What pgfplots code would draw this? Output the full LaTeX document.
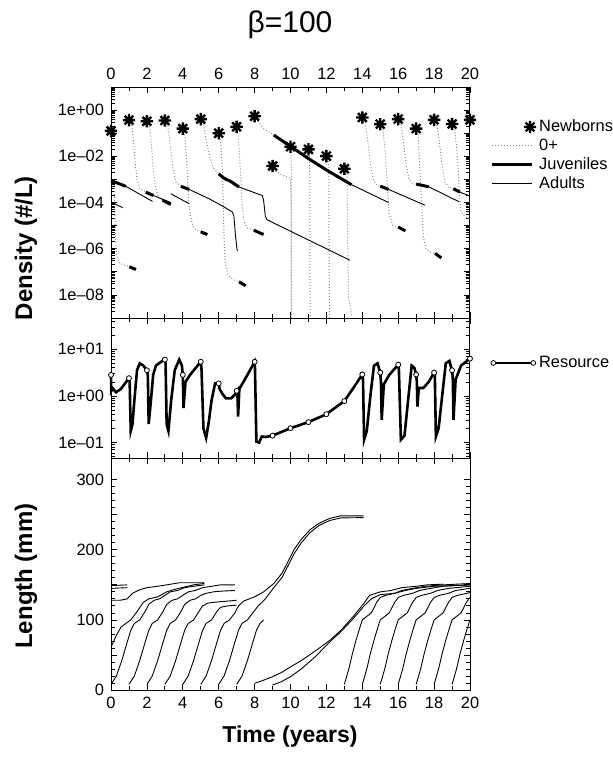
\documentclass[border=0pt]{standalone}
\usepackage{fontspec}
\setmainfont{Liberation Sans}
\usepackage{pgfplots}
\pgfplotsset{compat=1.18}

% eight-armed asterisk for the newborns
\pgfdeclareplotmark{ast8}{%
  \pgfpathmoveto{\pgfpoint{-\pgfplotmarksize}{0pt}}\pgfpathlineto{\pgfpoint{\pgfplotmarksize}{0pt}}%
  \pgfpathmoveto{\pgfpoint{0pt}{-\pgfplotmarksize}}\pgfpathlineto{\pgfpoint{0pt}{\pgfplotmarksize}}%
  \pgfpathmoveto{\pgfpoint{-0.7071\pgfplotmarksize}{-0.7071\pgfplotmarksize}}\pgfpathlineto{\pgfpoint{0.7071\pgfplotmarksize}{0.7071\pgfplotmarksize}}%
  \pgfpathmoveto{\pgfpoint{-0.7071\pgfplotmarksize}{0.7071\pgfplotmarksize}}\pgfpathlineto{\pgfpoint{0.7071\pgfplotmarksize}{-0.7071\pgfplotmarksize}}%
  \pgfusepathqstroke}

\tikzset{nb/.style={mark=ast8, mark size=3.1pt, line width=1.2pt, black}}

\pgfplotsset{
  panel/.style={
    scale only axis, width=179.5pt, xmin=0, xmax=20, anchor=north west,
    xtick={0,2,...,20}, minor xtick={1,3,...,19},
    tick pos=both, tick align=inside,
    major tick length=3pt, minor tick length=1.8pt,
    axis line style={line width=0.5pt},
    tick style={black, line width=0.4pt},
    tick label style={font=\fontsize{8.2}{9}\selectfont},
    /pgf/number format/assume math mode=true,
    clip=false,
  },
  juv/.style={black, line width=1.5pt, forget plot},
  adu/.style={black, line width=0.45pt, forget plot},
  zero/.style={black!45, densely dotted, line width=0.5pt, forget plot},
  len/.style={black, line width=0.45pt, forget plot},
}

\begin{document}
\begin{tikzpicture}
\useasboundingbox (0pt,0pt) rectangle (306.5pt,-380.5pt);

% ---------------- densities ----------------
\begin{axis}[panel, at={(55.5pt,-43.5pt)}, height=115.5pt,
  ymode=log, ymin=1e-9, ymax=10,
  xticklabel pos=upper,
  ytick={1e-9,1e-8,1e-7,1e-6,1e-5,1e-4,1e-3,1e-2,1e-1,1,10},
  yticklabels={,1e--08,,1e--06,,1e--04,,1e--02,,1e+00,},
  minor ytick={2e-9,3e-9,4e-9,5e-9,6e-9,7e-9,8e-9,9e-9,
    2e-8,3e-8,4e-8,5e-8,6e-8,7e-8,8e-8,9e-8,
    2e-7,3e-7,4e-7,5e-7,6e-7,7e-7,8e-7,9e-7,
    2e-6,3e-6,4e-6,5e-6,6e-6,7e-6,8e-6,9e-6,
    2e-5,3e-5,4e-5,5e-5,6e-5,7e-5,8e-5,9e-5,
    2e-4,3e-4,4e-4,5e-4,6e-4,7e-4,8e-4,9e-4,
    2e-3,3e-3,4e-3,5e-3,6e-3,7e-3,8e-3,9e-3,
    0.02,0.03,0.04,0.05,0.06,0.07,0.08,0.09,
    0.2,0.3,0.4,0.5,0.6,0.7,0.8,0.9,2,3,4,5,6,7,8,9},
  legend cell align=left,
  legend style={draw=none, fill=none, at={(1.056,0.874)}, anchor=north west,
    font=\fontsize{8.2}{9.5}\selectfont, row sep=-0.9pt, column sep=0pt,
    inner sep=0pt, nodes={inner sep=1.5pt}},
]
% 0+ (dotted)
\addplot[zero] coordinates {(0.19,7.9e-4)(0.22,3.2e-5)(0.26,2.5e-6)(0.32,5.0e-7)(0.45,2.5e-7)(0.7,2.0e-7)(1.02,1.66e-7)};
\addplot[zero] coordinates {(1.0,0.37)(1.15,0.25)(1.25,0.05)(1.35,5.0e-3)(1.45,1e-3)(1.6,4.0e-4)(1.94,2.8e-4)};
\addplot[zero] coordinates {(2,0.33)(2.15,0.2)(2.25,0.032)(2.35,2.5e-3)(2.5,4.0e-4)(2.65,1.58e-4)(2.87,1.26e-4)};
\addplot[zero] coordinates {(3,0.355)(3.15,0.25)(3.3,0.032)(3.45,3.2e-3)(3.6,7.9e-4)(3.9,5.0e-4)};
\addplot[zero] coordinates {(4,0.158)(4.1,0.1)(4.2,0.01)(4.3,3.2e-4)(4.4,3.2e-5)(4.55,1e-5)(4.75,6.3e-6)(5.0,5.4e-6)};
\addplot[zero] coordinates {(5,0.41)(5.15,0.25)(5.3,0.05)(5.5,0.01)(5.7,3.2e-3)(6.0,1.74e-3)};
\addplot[zero] coordinates {(6,0.1)(6.1,0.05)(6.2,3.2e-3)(6.25,1e-4)(6.3,3.2e-6)(6.35,3.2e-7)(6.5,7.9e-8)(6.8,4.5e-8)(7.13,3.7e-8)};
\addplot[zero] coordinates {(7,0.19)(7.1,0.063)(7.2,3.2e-3)(7.3,1e-4)(7.4,1.58e-5)(7.6,7.9e-6)(7.96,6.3e-6)};
\addplot[zero] coordinates {(8,0.54)(8.2,0.32)(8.5,0.158)(9.07,0.083)};
\addplot[zero] coordinates {(9,3.8e-3)(9.1,2.5e-3)(9.5,1.58e-3)(10.0,1.12e-3)(10.03,1e-4)(10.03,1e-9)};
\addplot[zero] coordinates {(10.04,0.0158)(10.06,1e-9)};
\addplot[zero] coordinates {(11.07,0.0141)(11.09,1e-9)};
\addplot[zero] coordinates {(12.13,6.3e-3)(12.15,3.2e-7)(12.18,1e-9)};
\addplot[zero] coordinates {(13.15,1.78e-3)(13.17,1e-5)(13.24,7.9e-9)(13.43,1.15e-9)};
\addplot[zero] coordinates {(14,0.48)(14.15,0.32)(14.3,0.05)(14.45,5e-3)(14.6,1e-3)(14.8,5.6e-4)(15.0,5.1e-4)};
\addplot[zero] coordinates {(15,0.245)(15.15,0.158)(15.3,0.01)(15.4,3.2e-4)(15.5,3.2e-5)(15.7,1e-5)(16.0,8.7e-6)};
\addplot[zero] coordinates {(16,0.41)(16.15,0.25)(16.3,0.04)(16.45,4e-3)(16.6,1e-3)(16.8,6.6e-4)(17.0,6.3e-4)};
\addplot[zero] coordinates {(17,0.158)(17.1,0.1)(17.2,3.2e-3)(17.3,1e-4)(17.4,3.2e-6)(17.55,1e-6)(17.8,7.1e-7)(18.05,6.3e-7)};
\addplot[zero] coordinates {(18,0.38)(18.15,0.25)(18.3,0.04)(18.45,4e-3)(18.6,7.9e-4)(18.8,4.5e-4)(19.07,4e-4)};
\addplot[zero] coordinates {(19,0.25)(19.15,0.158)(19.3,0.01)(19.4,3.2e-4)(19.5,4e-5)(19.7,2.5e-5)(20,2e-5)};
% adults (thin)
\addplot[adu] coordinates {(0,1.05e-4)(0.65,6.0e-5)};
\addplot[adu] coordinates {(0.83,5.0e-4)(2.31,1.12e-4)};
\addplot[adu] coordinates {(2.37,2.0e-4)(3.33,1.0e-4)};
\addplot[adu] coordinates {(3.33,2.4e-4)(4.35,8.9e-5)};
\addplot[adu] coordinates {(4.35,3.7e-4)(5.5,1.41e-4)(6.2,7.1e-5)(6.76,3.9e-5)(6.85,2.5e-5)(6.92,5.0e-6)(7.0,1.26e-6)(7.04,7.9e-7)};
\addplot[adu] coordinates {(7.13,4.7e-4)(8.43,2.0e-4)(8.5,1.26e-4)(8.6,2.5e-5)(8.7,1.78e-5)(13.3,3.2e-7)};
\addplot[adu] coordinates {(13.4,5.9e-4)(15.46,1.0e-4)};
\addplot[adu] coordinates {(15.46,3.7e-4)(17.5,7.6e-5)};
\addplot[adu] coordinates {(17.7,4.8e-4)(19.4,1.07e-4)};
\addplot[adu] coordinates {(19.44,2.8e-4)(20,1.9e-4)};
% juveniles (thick)
\addplot[juv] coordinates {(0,8.9e-4)(0.83,5.0e-4)};
\addplot[juv] coordinates {(1.02,1.66e-7)(1.39,1.26e-7)};
\addplot[juv] coordinates {(1.94,2.8e-4)(2.37,2.0e-4)};
\addplot[juv] coordinates {(2.87,1.26e-4)(3.33,8.3e-5)};
\addplot[juv] coordinates {(3.9,5.0e-4)(4.35,3.7e-4)};
\addplot[juv] coordinates {(5.0,5.4e-6)(5.37,4.1e-6)};
\addplot[juv] coordinates {(6.0,1.74e-3)(6.3,1.12e-3)(6.7,7.9e-4)(7.13,4.7e-4)};
\addplot[juv] coordinates {(7.13,3.7e-8)(7.5,2.5e-8)};
\addplot[juv] coordinates {(7.96,6.3e-6)(8.5,4.1e-6)};
\addplot[juv] coordinates {(9.07,0.083)(10.0,0.027)(11.02,7.8e-3)(12.04,2.45e-3)(13.4,5.9e-4)};
\addplot[juv] coordinates {(15.0,5.1e-4)(15.46,3.7e-4)};
\addplot[juv] coordinates {(16.0,8.7e-6)(16.4,5.9e-6)};
\addplot[juv] coordinates {(17.0,6.3e-4)(17.7,4.8e-4)};
\addplot[juv] coordinates {(18.05,6.3e-7)(18.4,4.0e-7)};
\addplot[juv] coordinates {(19.07,4.0e-4)(19.44,2.8e-4)};
% newborns
\addplot[only marks, nb, forget plot] coordinates {
(0,0.126)(1,0.37)(2,0.33)(3,0.355)(4,0.158)(5,0.41)(6,0.1)(7,0.19)(8,0.54)(9,0.0038)(10,0.026)
(11,0.02)(12,0.0102)(13,0.0029)(14,0.48)(15,0.245)(16,0.41)(17,0.158)(18,0.38)(19,0.25)(20,0.38)};
% legend
\addlegendimage{legend image code/.code={\draw[only marks, nb] plot coordinates {(19pt,0pt)};}}
\addlegendentry{Newborns}
\addlegendimage{legend image code/.code={\draw[black!45, densely dotted, line width=0.5pt] (0pt,0pt) -- (20pt,0pt);}}
\addlegendentry{0+}
\addlegendimage{legend image code/.code={\draw[black, line width=1.5pt] (0pt,0pt) -- (20pt,0pt);}}
\addlegendentry{Juveniles}
\addlegendimage{legend image code/.code={\draw[black, line width=0.45pt] (0pt,0pt) -- (20pt,0pt);}}
\addlegendentry{Adults}
\end{axis}

% ---------------- resource ----------------
\begin{axis}[panel, at={(55.5pt,-159pt)}, height=70pt,
  ymode=log, ymin=0.0468, ymax=46.8,
  xticklabels={},
  ytick={0.1,1,10}, yticklabels={1e--01,1e+00,1e+01},
  minor ytick={0.05,0.06,0.07,0.08,0.09,0.2,0.3,0.4,0.5,0.6,0.7,0.8,0.9,2,3,4,5,6,7,8,9,20,30,40},
  legend style={draw=none, fill=none, at={(1.056,0.679)}, anchor=west,
    font=\fontsize{8.2}{9.5}\selectfont, column sep=0pt, inner sep=0pt, nodes={inner sep=1.5pt}},
]
\addplot[black, line width=1.3pt, forget plot] coordinates {
(0,2.82)(0.01,1.26)(0.1,1.45)(0.28,1.2)(0.55,1.41)(1.0,2.4)(1.04,2.0)(1.1,0.178)(1.2,0.251)(1.3,0.794)
(1.45,3.55)(1.6,5.0)(1.8,4.47)(2.0,3.55)(2.05,2.82)(2.1,0.251)(2.2,0.631)(2.35,2.82)(2.5,4.47)(2.75,5.25)
(3.0,6.0)(3.04,5.0)(3.1,0.251)(3.2,0.178)(3.35,0.794)(3.55,3.55)(3.8,6.0)(3.95,4.47)(4.0,2.82)(4.04,0.55)
(4.15,2.0)(4.4,2.82)(5.0,5.4)(5.04,4.0)(5.15,0.2)(5.3,0.126)(5.45,0.282)(5.6,0.794)(5.8,1.86)(6.0,1.86)
(6.05,1.41)(6.2,1.12)(6.4,0.89)(6.7,0.89)(6.95,1.12)(7.04,1.29)(7.08,0.363)(7.15,1.41)(7.3,1.78)(7.6,2.82)
(8.0,5.4)(8.02,4.0)(8.1,0.105)(8.25,0.1)(8.4,0.135)(8.6,0.132)(9.0,0.141)(10.0,0.204)(11.0,0.275)(12.0,0.407)
(13.0,0.776)(13.5,1.48)(14.0,2.88)(14.04,2.24)(14.1,0.115)(14.25,0.178)(14.45,1.0)(14.65,4.47)(14.85,5.0)(15.0,3.16)
(15.04,2.0)(15.08,0.309)(15.2,1.78)(15.5,2.82)(16.0,4.68)(16.04,3.55)(16.15,0.115)(16.35,0.141)(16.55,0.794)(16.75,4.47)
(16.9,4.0)(17.0,2.88)(17.04,2.0)(17.07,0.589)(17.15,1.48)(17.4,1.48)(17.7,2.0)(18.0,3.16)(18.04,2.82)(18.1,0.135)
(18.25,0.2)(18.45,1.0)(18.65,5.0)(18.85,5.62)(19.0,3.55)(19.04,2.51)(19.08,0.309)(19.2,2.24)(19.5,4.47)(20,6.31)};
\addplot[only marks, mark=*, mark size=1.25pt, mark options={fill=white, draw=black, line width=0.4pt}, forget plot] coordinates {
(0,2.82)(1,2.4)(2,3.55)(3,6.0)(4,2.82)(5,5.4)(6,1.86)(7,1.29)(8,5.4)(9,0.141)(10,0.204)
(11,0.275)(12,0.407)(13,0.776)(14,2.88)(15,3.16)(16,4.68)(17,2.88)(18,3.16)(19,3.55)(20,6.31)};
\addlegendimage{legend image code/.code={\draw[black, line width=1.1pt] (0pt,0pt) -- (20pt,0pt);
  \draw[fill=white, line width=0.4pt] (0pt,0pt) circle (1.2pt) (20pt,0pt) circle (1.2pt);}}
\addlegendentry{Resource}
\end{axis}

% ---------------- length ----------------
\begin{axis}[panel, at={(55.5pt,-229pt)}, height=116pt,
  ymin=0, ymax=331,
  ytick={0,50,...,300}, yticklabels={0,,100,,200,,300}, minor y tick num=4,
]
% cohorts present at the start
\addplot[len] coordinates {(0,149)(0.9,150)};
\addplot[len] coordinates {(0,145)(0.9,146)};
\addplot[len] coordinates {(0,128)(0.5,128)(0.9,130)(1.2,138)(1.6,143)(2.0,146)(2.6,148)(3.1,150)(3.8,153)(5.2,153)};
\addplot[len] coordinates {(0,61)(0.3,78)(0.56,90)(1.1,100)(1.4,110)(1.8,125)(2.1,130)(2.6,133)(3.1,140)(3.6,144)(4.1,147)(4.6,150)(5.2,152)};
% early cohorts
\addplot[len] coordinates {(0,8)(0.3,20)(0.6,42)(0.9,68)(1.1,85)(1.3,95)(1.6,100)(1.9,112)(2.1,122)(2.4,128)(2.7,130)(3.0,135)(3.3,140)(3.7,142)(4.1,146)(4.6,148)(5.2,150)};
\addplot[len] coordinates {(1,8)(1.3,20)(1.6,42)(1.9,68)(2.1,85)(2.3,95)(2.6,100)(2.9,112)(3.1,122)(3.4,128)(3.7,130)(4.0,135)(4.3,140)(4.7,142)(5.1,146)(5.6,148)(6.1,150)(6.9,150)};
\addplot[len] coordinates {(2,8)(2.3,20)(2.6,42)(2.9,68)(3.1,85)(3.3,95)(3.6,100)(3.9,112)(4.1,122)(4.4,128)(4.7,130)(5.0,135)(5.3,138)(5.7,140)(6.1,141)(6.9,142)};
\addplot[len] coordinates {(3,8)(3.3,20)(3.6,42)(3.9,68)(4.1,85)(4.3,95)(4.6,100)(4.9,112)(5.1,120)(5.4,124)(5.7,125)(6.1,126)(7.0,128)};
\addplot[len] coordinates {(4,8)(4.3,20)(4.6,42)(4.9,68)(5.1,85)(5.3,95)(5.6,100)(5.9,112)(6.1,118)(6.5,120)(7.0,121)};
\addplot[len] coordinates {(5,8)(5.3,20)(5.6,42)(5.9,68)(6.1,85)(6.3,95)(6.6,100)(6.9,110)(7.1,120)(7.4,127)(7.7,130)(8.0,133)(8.5,140)(9.07,152)(9.54,167)(10.19,200)(10.6,215)(11.1,229)(11.6,238)(12.2,245)(12.8,248.5)(14.07,248.5)};
\addplot[len] coordinates {(6,8)(6.3,20)(6.6,42)(6.9,68)(7.1,85)(7.3,95)(7.6,100)(7.9,110)(8.2,120)(8.6,130)(9.07,146)(9.54,161)(10.19,194)(10.6,210)(11.1,225)(11.6,235)(12.2,242)(12.8,245.5)(14.07,246)};
\addplot[len] coordinates {(7,8)(7.3,20)(7.6,42)(7.9,68)(8.1,85)(8.3,95)(8.5,100)};
% slow cohorts
\addplot[len] coordinates {(8,9.5)(8.5,14)(9,19)(9.5,25)(10,33)(10.6,42)(11.4,56)(12.2,71)(12.8,85)(13.5,105)(14.1,124)(14.4,135)(15,140)(15.6,142)(16.2,146)(17,148)(17.6,150)(18.5,151)};
\addplot[len] coordinates {(9,7)(9.5,12)(10,19)(10.6,30)(11.4,48)(12.2,69)(12.8,83)(13.5,102)(14.1,120)(14.5,130)(15,136)(15.8,138)(16.4,142)(17,145)(18,148)(20,150)};
% late cohorts
\addplot[len] coordinates {(13,8)(13.25,30)(13.45,52)(13.65,71)(13.85,88)(14.0,100)(14.2,104)(14.5,110)(14.8,125)(15.0,132)(15.3,135)(15.8,138)(16.2,142)(16.8,145)(17.5,148)(18.5,150)(20,152)};
\addplot[len] coordinates {(14,8)(14.25,30)(14.45,52)(14.65,71)(14.85,88)(15.0,100)(15.2,104)(15.5,110)(15.8,125)(16.0,132)(16.3,135)(16.8,138)(17.2,142)(17.8,145)(18.5,148)(20,150)};
\addplot[len] coordinates {(15,8)(15.25,30)(15.45,52)(15.65,71)(15.85,88)(16.0,100)(16.2,104)(16.5,110)(16.8,125)(17.0,132)(17.3,135)(17.8,138)(18.2,142)(18.8,145)(20,148)};
\addplot[len] coordinates {(16,8)(16.25,30)(16.45,52)(16.65,71)(16.85,88)(17.0,100)(17.2,104)(17.5,110)(17.8,125)(18.0,132)(18.3,135)(18.8,138)(19.2,142)(20,145)};
\addplot[len] coordinates {(17,8)(17.25,30)(17.45,52)(17.65,71)(17.85,88)(18.0,100)(18.2,104)(18.5,110)(18.8,125)(19.0,132)(19.3,135)(20,139)};
\addplot[len] coordinates {(18,8)(18.25,30)(18.45,52)(18.65,71)(18.85,88)(19.0,100)(19.2,104)(19.5,110)(19.8,125)(20,132)};
\addplot[len] coordinates {(19,8)(19.25,30)(19.45,52)(19.65,71)(19.85,88)(20,100)};
\end{axis}

\node[font=\fontsize{15}{17}\selectfont] at (145pt,-12.5pt) {β=100};
\node[rotate=90, font=\bfseries\fontsize{12}{14}\selectfont] at (13pt,-124pt) {Density (\#/L)};
\node[rotate=90, font=\bfseries\fontsize{12}{14}\selectfont] at (13pt,-288pt) {Length (mm)};
\node[font=\bfseries\fontsize{11.5}{13}\selectfont] at (145pt,-368.5pt) {Time (years)};
\end{tikzpicture}
\end{document}
